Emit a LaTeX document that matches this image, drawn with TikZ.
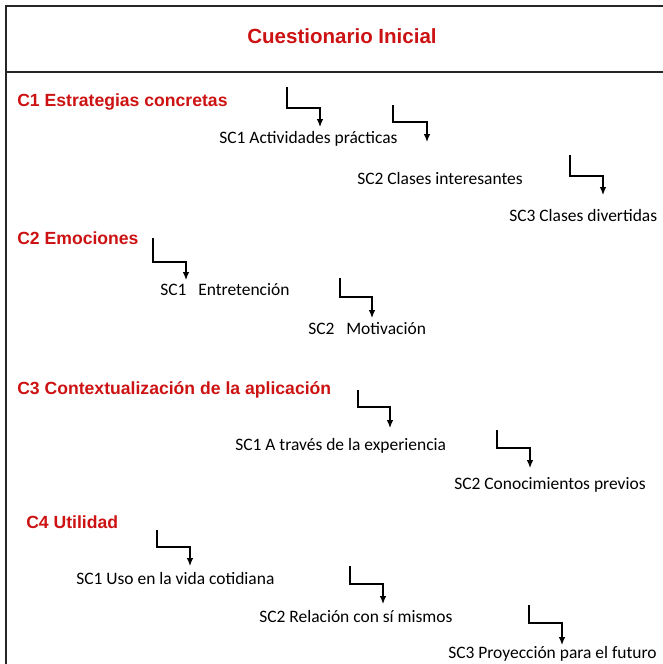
\documentclass[tikz,border=0pt]{standalone}
\usepackage{fontspec}
\setmainfont{Carlito}
\newfontfamily\arialfont{Liberation Sans}
\usetikzlibrary{arrows.meta}
\definecolor{rojotitulo}{RGB}{204,18,18}
\tikzset{
  titulo/.style={font=\arialfont\bfseries\fontsize{15.4}{18}\selectfont,text=rojotitulo,inner sep=0pt},
  categoria/.style={font=\arialfont\bfseries\fontsize{13.2}{16}\selectfont,text=rojotitulo,inner sep=0pt,anchor=west},
  subcat/.style={font=\fontsize{13.1}{16}\selectfont,inner sep=0pt,anchor=west},
  marco/.style={line width=1.6pt,black!85},
  flecha/.style={line width=0.95pt,-{Latex[length=6pt,width=5pt]}}
}
\begin{document}
\begin{tikzpicture}[x=0.75pt,y=-0.75pt]
	   \useasboundingbox (0,0) rectangle (663,664);
	   \draw[marco] (663,6) -- (6,6) -- (6,664);
	   \draw[marco] (6,72) -- (663,72);
	   \node [titulo] (tit) at (342,36) {Cuestionario Inicial};
	   \node [categoria] (c1) at (17,102) {C1 Estrategias concretas};
	   \node [subcat] (c1sc1) at (219,139) {SC1 Actividades prácticas};
	   \node [subcat] (c1sc2) at (357,178) {SC2 Clases interesantes};
	   \node [subcat] (c1sc3) at (509,215) {SC3 Clases divertidas};
	   \node [categoria] (c2) at (17,238) {C2 Emociones};
	   \node [subcat] (c2sc1) at (160,290) {SC1~~~Entretención};
	   \node [subcat] (c2sc2) at (308,329) {SC2~~~Motivación};
	   \node [categoria] (c3) at (17,390) {C3 Contextualización de la aplicación};
	   \node [subcat] (c3sc1) at (235,446) {SC1 A través de la experiencia};
	   \node [subcat] (c3sc2) at (454,485) {SC2 Conocimientos previos};
	   \node [categoria] (c4) at (26,522) {C4 Utilidad};
	   \node [subcat] (c4sc1) at (76,578) {SC1 Uso en la vida cotidiana};
	   \node [subcat] (c4sc2) at (259,616) {SC2 Relación con sí mismos};
	   \node [subcat] (c4sc3) at (448,654) {SC3 Proyección para el futuro};
	   \coordinate (a1) at (287,87);   \coordinate (b1) at (320,127);
	   \coordinate (a2) at (393,105);  \coordinate (b2) at (427,142);
	   \coordinate (a3) at (570,155);  \coordinate (b3) at (603,195);
	   \coordinate (a4) at (153,238);  \coordinate (b4) at (186,280);
	   \coordinate (a5) at (340,278);  \coordinate (b5) at (372,318);
	   \coordinate (a6) at (358,390);  \coordinate (b6) at (390,428);
	   \coordinate (a7) at (497,430);  \coordinate (b7) at (530,468);
	   \coordinate (a8) at (157,530);  \coordinate (b8) at (190,566);
	   \coordinate (a9) at (350,566);  \coordinate (b9) at (383,604);
	   \coordinate (a10) at (529,605); \coordinate (b10) at (562,645);
	   \draw[flecha] (a1) |- ++(33,21) -- (b1);
	   \draw[flecha] (a2) |- ++(34,17) -- (b2);
	   \draw[flecha] (a3) |- ++(33,21) -- (b3);
	   \draw[flecha] (a4) |- ++(33,24) -- (b4);
	   \draw[flecha] (a5) |- ++(32,19) -- (b5);
	   \draw[flecha] (a6) |- ++(32,17) -- (b6);
	   \draw[flecha] (a7) |- ++(33,18) -- (b7);
	   \draw[flecha] (a8) |- ++(33,17) -- (b8);
	   \draw[flecha] (a9) |- ++(33,18) -- (b9);
	   \draw[flecha] (a10) |- ++(33,18) -- (b10);
\end{tikzpicture}
\end{document}
